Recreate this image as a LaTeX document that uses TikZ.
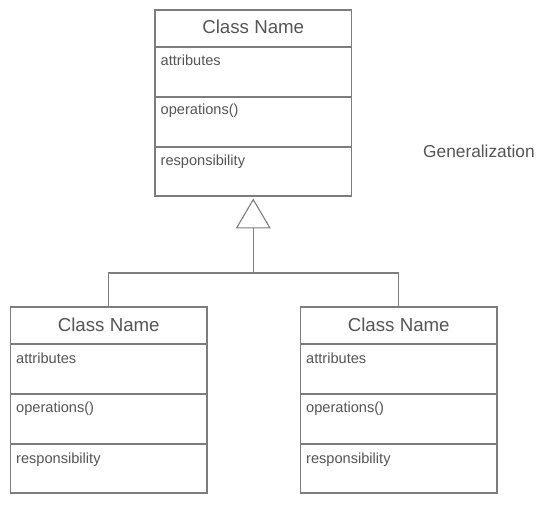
\documentclass[tikz,border=0pt]{standalone}
\usepackage{fontspec}
\setmainfont{Liberation Sans}
\usetikzlibrary{arrows.meta}
\definecolor{linegray}{RGB}{125,125,125}
\definecolor{textgray}{RGB}{85,85,85}
\tikzset{
  x=1pt, y={(0pt,-1pt)},
  umlline/.style={draw=linegray, line width=1.1pt},
  classbox/.style={umlline, fill=white, minimum width=196.5pt, minimum height=186pt, inner sep=0pt, outer sep=0pt},
  classtitle/.style={text=textgray, font=\fontsize{18.7}{22}\selectfont, inner sep=0pt, anchor=base},
  member/.style={text=textgray, font=\fontsize{14.6}{17}\selectfont, inner sep=0pt, anchor=base west},
  gentip/.style={-{Triangle[open, width=35pt, length=30pt, line width=1.1pt]}},
}
\newcommand\umlclass[3]{%
  \begin{scope}[shift={(#2,#3)}]
    \node[classbox, anchor=north west] (#1) at (0,0) {};
    \draw[umlline] (0,37) -- (196.5,37);
    \draw[umlline] (0,87) -- (196.5,87);
    \draw[umlline] (0,137) -- (196.5,137);
    \node[classtitle] (#1-name) at (98.25,24) {Class Name};
    \node[member] (#1-attr) at (5.5,56) {attributes};
    \node[member] (#1-ops) at (5.5,105) {operations()};
    \node[member] (#1-resp) at (5.5,156) {responsibility};
  \end{scope}}
\begin{document}
\begin{tikzpicture}
  \useasboundingbox (0,0) rectangle (541,505);
  \umlclass{top}{155}{10}
  \umlclass{left}{10.5}{307}
  \umlclass{right}{300.5}{307}
  \coordinate (junction) at (253.25,273);
  \draw[umlline] (left.north) |- (junction) -| (right.north);
  \draw[umlline, gentip, shorten >=2.5pt] (junction) -- (top.south);
  \node[text=textgray, font=\fontsize{17.3}{20}\selectfont, inner sep=0pt, anchor=base west] (gen) at (423,158) {Generalization};
\end{tikzpicture}
\end{document}
